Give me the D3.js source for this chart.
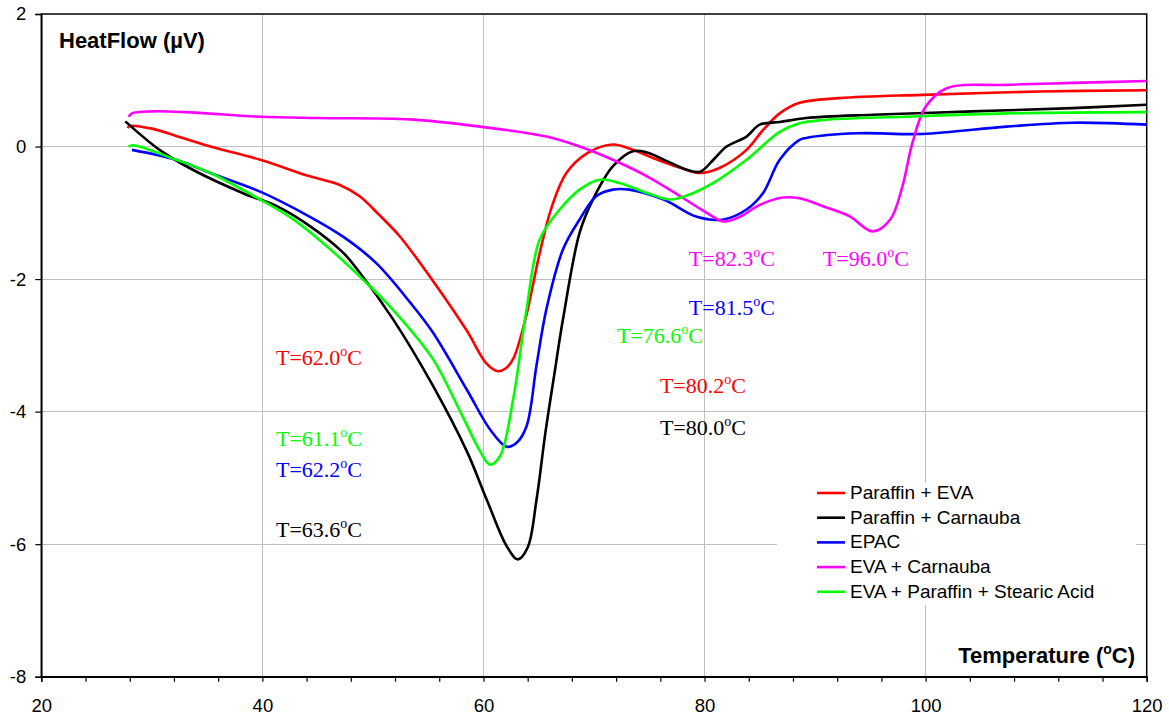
<!DOCTYPE html>
<html>
<head>
<meta charset="utf-8">
<script src="https://cdn.jsdelivr.net/npm/d3@7"></script>
<style>
html,body{margin:0;padding:0;background:#fff;}
svg{display:block;}
</style>
</head>
<body>
<svg id="chart" width="1169" height="718"></svg>
<script>
// ---------- data ----------
const seriesNames = ["Paraffin + EVA","Paraffin + Carnauba","EPAC","EVA + Carnauba","EVA + Paraffin + Stearic Acid"];
const seriesColors = ["#ff0000","#000000","#0000ff","#ff00ff","#00ff00"];

const paraffinEVA = [[27.8,0.28],[28.0,0.31],[30,0.27],[32.2,0.16],[35.3,0.0],[39.8,-0.2],[44.3,-0.45],[47.0,-0.58],[48.8,-0.75],[50.5,-1.02],[52.4,-1.35],[55.4,-2.02],[58.5,-2.78],[60.3,-3.28],[61.3,-3.39],[62.0,-3.35],[62.7,-3.2],[63.8,-2.6],[65.1,-1.6],[66.2,-0.9],[67.5,-0.4],[69.4,-0.1],[71.7,0.03],[73.5,-0.05],[75.3,-0.17],[77.8,-0.32],[79.6,-0.4],[81.4,-0.32],[83.8,-0.05],[85.3,0.25],[86.8,0.5],[88.6,0.66],[92.2,0.73],[99.7,0.78],[110.3,0.83],[120,0.85]];

const paraffinCarnauba = [[27.6,0.38],[30.7,-0.05],[33.7,-0.35],[38.2,-0.7],[41.3,-0.9],[44.3,-1.2],[47.3,-1.6],[48.8,-1.9],[51.8,-2.6],[55.4,-3.6],[58.5,-4.6],[60.3,-5.33],[62.1,-6.03],[63.1,-6.23],[64.0,-6.05],[64.8,-5.33],[65.6,-4.32],[66.4,-3.45],[67.2,-2.6],[68.7,-1.3],[69.9,-0.8],[71.7,-0.3],[73.5,-0.07],[74.8,-0.09],[76.6,-0.22],[78.4,-0.35],[79.6,-0.38],[80.8,-0.2],[82.0,0.0],[83.8,0.15],[85.0,0.33],[86.8,0.37],[89.2,0.43],[95.2,0.48],[104.2,0.53],[113.3,0.58],[120,0.63]];

const epac = [[28.2,-0.05],[32.2,-0.2],[35.3,-0.4],[39.8,-0.68],[44.3,-1.06],[47.3,-1.36],[50.3,-1.76],[53.4,-2.36],[55.4,-2.8],[58.5,-3.67],[60.6,-4.27],[62.1,-4.53],[63.0,-4.47],[63.9,-4.22],[64.8,-3.3],[65.7,-2.45],[67.2,-1.55],[68.7,-1.1],[70.2,-0.75],[71.7,-0.65],[73.2,-0.65],[76.3,-0.8],[79.3,-1.06],[81.7,-1.1],[83.8,-0.95],[85.3,-0.7],[86.8,-0.2],[88.6,0.1],[89.2,0.13],[93.8,0.2],[99.7,0.19],[107.3,0.3],[113.3,0.36],[120,0.33]];

const evaCarnauba = [[27.9,0.45],[28.2,0.5],[30,0.53],[33,0.52],[39.8,0.45],[45,0.43],[53.4,0.41],[59.7,0.3],[65.7,0.15],[68.7,0.0],[71.7,-0.2],[74.8,-0.45],[77.8,-0.75],[80.2,-1.0],[81.7,-1.13],[83.2,-1.06],[85,-0.88],[87.1,-0.77],[88.6,-0.78],[90.7,-0.9],[93.1,-1.05],[95.2,-1.28],[96.8,-1.1],[97.9,-0.6],[98.8,0.05],[100.0,0.6],[101.9,0.88],[107.3,0.93],[113.3,0.96],[120,0.99]];

const evaParaffinStearic = [[27.9,0.0],[28.3,0.02],[32.2,-0.2],[35.3,-0.4],[39.8,-0.8],[42.8,-1.1],[45.8,-1.5],[48.8,-1.96],[51.8,-2.46],[55.4,-3.2],[57.9,-4.0],[59.7,-4.6],[60.6,-4.8],[61.5,-4.67],[62.7,-3.8],[63.9,-2.45],[65.1,-1.4],[66.9,-0.95],[68.7,-0.65],[70.5,-0.5],[72.3,-0.55],[74.8,-0.7],[76.9,-0.8],[79.0,-0.7],[80.8,-0.55],[83.8,-0.2],[86.8,0.22],[88.6,0.35],[90.7,0.4],[98.2,0.45],[107.3,0.5],[120,0.52]];

const seriesData = [paraffinEVA, paraffinCarnauba, epac, evaCarnauba, evaParaffinStearic];

const xTicks = [20,40,60,80,100,120];
const yTicks = [-8,-6,-4,-2,0,2];

// peak temperature annotations: value and series index
const peakTemps = ["62.0","61.1","62.2","63.6","82.3","96.0","81.5","76.6","80.2","80.0"];
const peakSeries = [0,4,2,1,3,3,2,4,0,1];
// label anchor positions (data coords)
const peakPosX = [41.23,41.23,41.23,41.23,78.58,90.70,78.58,72.07,75.96,75.96];
const peakPosY = [-3.29,-4.52,-4.98,-5.89,-1.80,-1.80,-2.54,-2.96,-3.72,-4.35];

// ---------- drawing ----------
const svg = d3.select("#chart");
const x = d3.scaleLinear().domain([20,120]).range([41.3,1146.7]);
const y = d3.scaleLinear().domain([-8,2]).range([676.7,14]);
const sans = "Arial, 'Liberation Sans', sans-serif";

// gridlines
svg.append("g").selectAll("line").data(xTicks.filter(d=>d>20&&d<120)).join("line")
  .attr("x1",d=>x(d)).attr("x2",d=>x(d)).attr("y1",y(2)).attr("y2",y(-8))
  .attr("stroke","#c0c0c0").attr("stroke-width",1).attr("shape-rendering","crispEdges");
svg.append("g").selectAll("line").data(yTicks.filter(d=>d>-8&&d<2)).join("line")
  .attr("x1",x(20)).attr("x2",x(120)).attr("y1",d=>y(d)).attr("y2",d=>y(d))
  .attr("stroke","#c0c0c0").attr("stroke-width",1).attr("shape-rendering","crispEdges");

// frame
svg.append("rect").attr("x",x(20)).attr("y",y(2)).attr("width",x(120)-x(20)).attr("height",y(-8)-y(2))
  .attr("fill","none").attr("stroke","#000").attr("stroke-width",1.5);

// axes
const xAxis = svg.append("g").attr("transform",`translate(0,${y(-8)})`)
  .call(d3.axisBottom(x).tickValues(d3.range(20,121,4)).tickSize(5).tickFormat(d=>xTicks.includes(d)?d:""));
xAxis.select(".domain").attr("stroke","#000").attr("stroke-width",1.5);
xAxis.selectAll(".tick line").attr("stroke","#000").attr("stroke-width",1.2);
xAxis.selectAll(".tick text").attr("font-family",sans).attr("font-size",18.5)
  .attr("fill","#000").attr("y",22).attr("dy","0.71em");

const yAxis = svg.append("g").attr("transform",`translate(${x(20)},0)`)
  .call(d3.axisLeft(y).tickValues(yTicks).tickSize(6).tickFormat(d3.format("d")));
yAxis.select(".domain").attr("stroke","#000").attr("stroke-width",1.5);
yAxis.selectAll(".tick line").attr("stroke","#000").attr("stroke-width",1.2);
yAxis.selectAll(".tick text").attr("font-family",sans).attr("font-size",18.5)
  .attr("fill","#000").attr("x",-15).text(d=>d<0?"-"+Math.abs(d):d);

// curves
const line = d3.line().x(d=>x(d[0])).y(d=>y(d[1])).curve(d3.curveCatmullRom.alpha(0.5));
svg.append("g").selectAll("path").data(seriesData).join("path")
  .attr("d",line).attr("fill","none")
  .attr("stroke",(d,i)=>seriesColors[i]).attr("stroke-width",2.6).attr("stroke-linejoin","round");

// axis titles
svg.append("text").attr("x",59).attr("y",48)
  .attr("font-family",sans).attr("font-weight","bold").attr("font-size",22)
  .text("HeatFlow (\u00B5V)");
const tt = svg.append("text").attr("x",1135).attr("y",663).attr("text-anchor","end")
  .attr("font-family",sans).attr("font-weight","bold").attr("font-size",22);
tt.append("tspan").text("Temperature (");
tt.append("tspan").attr("font-size",14).attr("dy",-9).text("o");
tt.append("tspan").attr("dy",9).text("C)");

// annotations
const ann = svg.append("g").attr("font-family","'Liberation Serif','Times New Roman',serif").attr("font-size",22);
peakTemps.forEach((t,i)=>{
  const tx = ann.append("text").attr("x",x(peakPosX[i])).attr("y",y(peakPosY[i])).attr("fill",seriesColors[peakSeries[i]]);
  tx.append("tspan").text("T="+t);
  tx.append("tspan").attr("font-size",14).attr("dy",-9).text("o");
  tx.append("tspan").attr("dy",9).text("C");
});

// legend
const lg = svg.append("g");
lg.append("rect").attr("x",777).attr("y",483).attr("width",359).attr("height",122).attr("fill","#fff");
seriesNames.forEach((n,i)=>{
  const by = 499 + i*24.7;
  lg.append("line").attr("x1",817).attr("x2",845).attr("y1",by-6).attr("y2",by-6)
    .attr("stroke",seriesColors[i]).attr("stroke-width",2.6);
  lg.append("text").attr("x",850).attr("y",by)
    .attr("font-family",sans).attr("font-size",19).attr("fill","#000").text(n);
});
</script>
</body>
</html>
